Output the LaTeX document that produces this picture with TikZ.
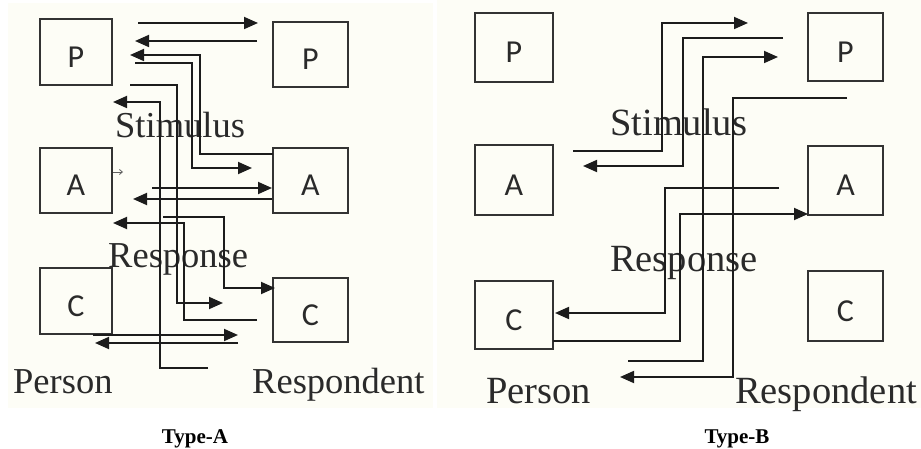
\documentclass[tikz,border=0pt]{standalone}
\usepackage{fontspec}
\setmainfont{Liberation Serif}
\newfontfamily\boxfont{Carlito}
\usetikzlibrary{arrows.meta}
\definecolor{cream}{HTML}{FDFDF6}
\definecolor{ink}{HTML}{1C1C1C}
\definecolor{txt}{HTML}{2A2A2A}
\begin{document}
\begin{tikzpicture}[x=1pt,y=-1pt,
  box/.style={draw=ink!90, line width=1.8pt, inner sep=0pt, text height=31pt, text depth=0pt,
    font=\boxfont\fontsize{32}{34}\selectfont, text=txt},
  lblA/.style={anchor=base west, inner sep=0pt, text=txt, font=\fontsize{36.5}{40}\selectfont},
  lblB/.style={anchor=base west, inner sep=0pt, text=txt, font=\fontsize{38.5}{42}\selectfont},
  ttl/.style={inner sep=0pt, font=\bfseries\fontsize{21}{24}\selectfont},
  arr/.style={draw=ink, line width=1.8pt, -{Triangle[length=14pt,width=12pt]}},
  ln/.style={draw=ink, line width=1.8pt}]
\useasboundingbox (0,0) rectangle (921,449);
\fill[cream] (8,3) rectangle (433,408);
\fill[cream] (437,0) rectangle (921,408);

% ---------- Type-A boxes ----------
\node[box, minimum width=72pt, minimum height=66pt] (APL) at (76,52) {P};
\node[box, minimum width=72pt, minimum height=65pt] (AAL) at (76,180.5) {A};
\node[box, minimum width=72pt, minimum height=66pt] (ACL) at (76,301) {C};
\node[box, minimum width=75pt, minimum height=65pt] (APR) at (310.5,54.5) {P};
\node[box, minimum width=75pt, minimum height=65pt] (AAR) at (310.5,180.5) {A};
\node[box, minimum width=75pt, minimum height=64pt] (ACR) at (310.5,310) {C};

% ---------- Type-A labels ----------
\node[lblA] (AStim) at (115,138) {Stimulus};
\node[lblA] (AResp) at (108,267) {Response};
\node[lblA] (APers) at (13,393) {Person};
\node[lblA] (AResn) at (252,393) {Respondent};
\node[ttl] (TA) at (195,439) {Type-A};

% ---------- Type-A connectors ----------
\coordinate (a1s) at (138,23);  \coordinate (a1e) at (258,23);
\coordinate (a2s) at (257,41);  \coordinate (a2e) at (135,41);
\coordinate (a3s) at (273,154); \coordinate (a3e) at (130,55);
\coordinate (a4s) at (135,63);  \coordinate (a4e) at (252,168);
\coordinate (a5s) at (130,85);  \coordinate (a5e) at (223,303);
\coordinate (a6s) at (208,368); \coordinate (a6e) at (113,102);
\coordinate (a7s) at (152,188); \coordinate (a7e) at (272,188);
\coordinate (a8s) at (272,199); \coordinate (a8e) at (133,199);
\coordinate (a9s) at (163,217); \coordinate (a9e) at (275,288);
\coordinate (a10s) at (257,320); \coordinate (a10e) at (113,223);
\coordinate (a11s) at (93,335); \coordinate (a11e) at (238,335);
\coordinate (a12s) at (238,343); \coordinate (a12e) at (95,343);
\coordinate (tks) at (113,172); \coordinate (tke) at (123,172);

\draw[arr] (a1s) -- (a1e);
\draw[arr] (a2s) -- (a2e);
\draw[arr] (a3s) -- ++(-73,0) |- (a3e);
\draw[arr] (a4s) -- ++(57,0) |- (a4e);
\draw[arr] (a5s) -- ++(47,0) |- (a5e);
\draw[arr] (a6s) -- ++(-48,0) |- (a6e);
\draw[arr] (a7s) -- (a7e);
\draw[arr] (a8s) -- (a8e);
\draw[arr] (a9s) -- ++(61,0) |- (a9e);
\draw[arr] (a10s) -- ++(-73,0) |- (a10e);
\draw[arr] (a11s) -- (a11e);
\draw[arr] (a12s) -- (a12e);
\draw[draw=ink!70, line width=0.8pt, -{Straight Barb[length=3pt,width=5pt]}] (tks) -- (tke);

% ---------- Type-B boxes ----------
\node[box, minimum width=78pt, minimum height=69pt] (BPL) at (514,47.5) {P};
\node[box, minimum width=78pt, minimum height=70pt] (BAL) at (514,180) {A};
\node[box, minimum width=78pt, minimum height=68pt] (BCL) at (514,315) {C};
\node[box, minimum width=75pt, minimum height=68pt] (BPR) at (845.5,47) {P};
\node[box, minimum width=75pt, minimum height=69pt] (BAR) at (845.5,180.5) {A};
\node[box, minimum width=75pt, minimum height=70pt] (BCR) at (845.5,306) {C};

% ---------- Type-B labels ----------
\node[lblB] (BStim) at (610,136) {Stimulus};
\node[lblB] (BResp) at (610,271) {Response};
\node[lblB] (BPers) at (486,403) {Person};
\node[lblB] (BResn) at (735,403) {Respondent};
\node[ttl] (TB) at (737,439) {Type-B};

% ---------- Type-B connectors ----------
\coordinate (b1s) at (573,151); \coordinate (b1e) at (748,23);
\coordinate (b2s) at (783,38);  \coordinate (b2e) at (583,166);
\coordinate (b3s) at (628,361); \coordinate (b3e) at (778,57);
\coordinate (b4s) at (847,98);  \coordinate (b4e) at (620,377);
\coordinate (b5s) at (779,188); \coordinate (b5e) at (555,313);
\coordinate (b6s) at (553,341); \coordinate (b6e) at (808,214);

\draw[arr] (b1s) -- ++(89,0) |- (b1e);
\draw[arr] (b2s) -- ++(-100,0) |- (b2e);
\draw[arr] (b3s) -- ++(75,0) |- (b3e);
\draw[arr] (b4s) -- ++(-114,0) |- (b4e);
\draw[arr] (b5s) -- ++(-114,0) |- (b5e);
\draw[arr] (b6s) -- ++(127,0) |- (b6e);
\end{tikzpicture}
\end{document}
